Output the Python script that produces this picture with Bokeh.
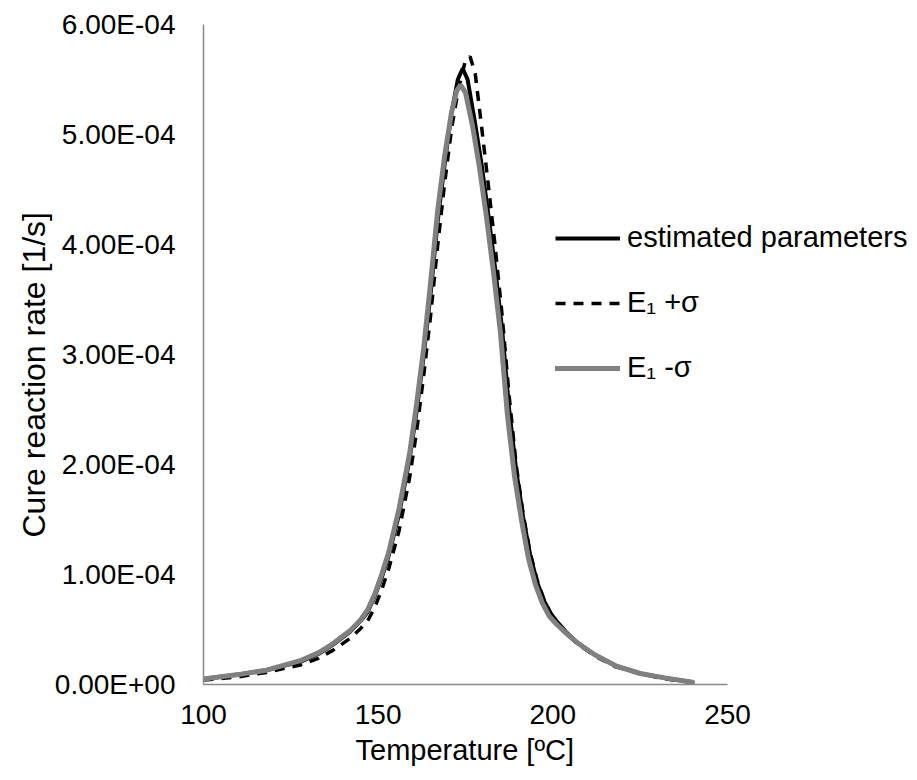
from bokeh.plotting import figure
from bokeh.models import (Range1d, FixedTicker, CustomJSTickFormatter, Legend, LegendItem, Title)
from bokeh.embed import file_html
from bokeh.resources import INLINE

# ---- data ----
temp_est = [100, 110, 118, 128, 133, 137, 142, 145, 147, 149, 151, 153, 156, 159, 161, 163, 165, 167, 169, 171, 172.8, 174.2, 175.6, 177.5, 179.5, 181.5, 183.5, 185.5, 187.5, 189.5, 191.5, 193.5, 195.5, 197.5, 199.5, 201.5, 204, 207, 212, 218, 225, 232, 240]
rate_est = [0.05, 0.09, 0.13, 0.21, 0.28, 0.36, 0.48, 0.58, 0.66, 0.8, 0.97, 1.17, 1.55, 2.05, 2.48, 2.98, 3.55, 4.2, 4.72, 5.2, 5.5, 5.6, 5.5, 5.15, 4.75, 4.28, 3.78, 3.22, 2.5, 1.95, 1.52, 1.18, 0.93, 0.76, 0.64, 0.56, 0.47, 0.38, 0.27, 0.17, 0.1, 0.06, 0.02]

temp_plus = [100, 110, 118, 128, 133, 137, 142, 145, 147, 149, 151, 153, 156, 159, 161, 163, 165, 167, 169, 171, 173, 174.8, 176.3, 177.8, 179.5, 181.5, 183.5, 185.5, 187.5, 189.5, 191.5, 193.5, 195.5, 197.5, 199.5, 201.5, 204, 207, 212, 218, 225, 232, 240]
rate_plus = [0.04, 0.07, 0.11, 0.18, 0.24, 0.31, 0.42, 0.51, 0.58, 0.7, 0.86, 1.05, 1.4, 1.88, 2.3, 2.8, 3.35, 3.98, 4.55, 5.05, 5.42, 5.65, 5.71, 5.55, 5.1, 4.55, 3.98, 3.35, 2.62, 2.0, 1.55, 1.2, 0.95, 0.77, 0.64, 0.55, 0.46, 0.37, 0.26, 0.16, 0.1, 0.05, 0.02]

temp_minus = [100, 110, 118, 128, 133, 137, 142, 145, 147, 149, 151, 153, 156, 159, 161, 163, 165, 167, 169, 171, 172.5, 173.6, 175, 177, 179, 181, 183, 185, 187, 189, 191, 193, 195, 197, 199, 201, 204, 207, 212, 218, 225, 232, 240]
rate_minus = [0.05, 0.09, 0.13, 0.22, 0.29, 0.37, 0.49, 0.59, 0.68, 0.82, 1.0, 1.2, 1.6, 2.1, 2.55, 3.05, 3.65, 4.3, 4.8, 5.2, 5.4, 5.45, 5.38, 5.08, 4.7, 4.25, 3.75, 3.2, 2.45, 1.9, 1.5, 1.15, 0.91, 0.74, 0.62, 0.55, 0.46, 0.38, 0.27, 0.17, 0.1, 0.06, 0.02]

scale = 1e-4
x_ticks = [100, 150, 200, 250]
y_ticks = [0, 1e-4, 2e-4, 3e-4, 4e-4, 5e-4, 6e-4]
labels = ["estimated parameters", "E\u2081 +\u03c3", "E\u2081 -\u03c3"]
x_title = "Temperature [ºC]"
y_title = "Cure reaction rate [1/s]"

FONT = "Liberation Sans"

W, H = 912, 780
LEFT, TOP, BOTTOM = 203, 24, 96
frame_w = W - LEFT
x_end = 100 + 150 * frame_w / 524.0   # frame extends under the legend; axis bounded to 100-250

p = figure(width=W, height=H, output_backend="svg", toolbar_location=None,
           x_range=Range1d(100, x_end), y_range=Range1d(0, 6e-4),
           min_border_left=LEFT, min_border_right=0, min_border_top=TOP, min_border_bottom=BOTTOM)
p.outline_line_color = None
p.xgrid.visible = False
p.ygrid.visible = False

for ax in (p.xaxis[0], p.yaxis[0]):
    ax.axis_line_color = "#868686"
    ax.axis_line_width = 1.5
    ax.major_tick_line_color = None
    ax.minor_tick_line_color = None
    ax.major_tick_out = 0
    ax.major_tick_in = 0
    ax.minor_tick_out = 0
    ax.minor_tick_in = 0
    ax.major_label_text_font = FONT
    ax.major_label_text_font_size = "28px"
    ax.major_label_text_color = "black"

p.xaxis.bounds = (100, 250)
p.xaxis.ticker = FixedTicker(ticks=x_ticks)
p.yaxis.ticker = FixedTicker(ticks=y_ticks)
p.yaxis.formatter = CustomJSTickFormatter(code="""
var s = tick.toExponential(2).split('e');
var e = parseInt(s[1]);
var a = Math.abs(e);
return s[0] + 'E' + (e < 0 ? '-' : '+') + (a < 10 ? '0' : '') + a;
""")
p.xaxis.major_label_standoff = 20
p.yaxis.major_label_standoff = 28

# axis titles as Titles so they can be positioned like the reference
xt = Title(text=x_title, align="left", offset=152, standoff=10,
           text_font=FONT, text_font_size="29px", text_font_style="normal", text_color="black")
p.add_layout(xt, "below")
yt = Title(text=y_title, align="left", offset=147, standoff=0,
           text_font=FONT, text_font_size="32px", text_font_style="normal", text_color="black")
p.add_layout(yt, "left")

r1 = p.line(temp_est, [v * scale for v in rate_est], line_color="black", line_width=4)
r2 = p.line(temp_plus, [v * scale for v in rate_plus], line_color="black", line_width=3.5, line_dash="10 8")
r3 = p.line(temp_minus, [v * scale for v in rate_minus], line_color="#808080", line_width=5, line_cap="round")

legend = Legend(items=[LegendItem(label=labels[0], renderers=[r1]),
                       LegendItem(label=labels[1], renderers=[r2]),
                       LegendItem(label=labels[2], renderers=[r3])],
                location=(352, 300), padding=0, spacing=32, glyph_width=65, glyph_height=20,
                label_standoff=7, border_line_color=None, background_fill_alpha=0,
                label_text_font=FONT, label_text_font_size="29px", label_text_color="black")
p.add_layout(legend)

open("out.html", "w").write(file_html(p, INLINE))
